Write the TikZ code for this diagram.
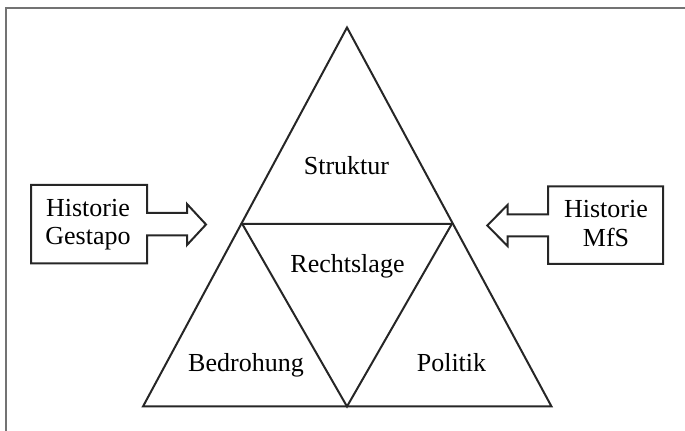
\documentclass[tikz,border=0pt]{standalone}
\usepackage{fontspec}
\setmainfont{Liberation Serif}
\begin{document}
\begin{tikzpicture}[x=0.5pt,y=-0.5pt,
  shape line/.style={draw=black!85,line width=1pt,line join=miter},
  frame line/.style={draw=black!55,line width=0.9pt},
  lbl/.style={font=\fontsize{13}{15}\selectfont,inner sep=0pt,anchor=base}]
\useasboundingbox (0,0) rectangle (685,431);
% frame
\draw[frame line] (6,431) -- (6,8) -- (685,8);
% triangle vertices
\coordinate (A) at (347,27.5);
\coordinate (BL) at (143,406.5);
\coordinate (BR) at (551.5,406.5);
\coordinate (ML) at (242.3,224);
\coordinate (MR) at (451.8,224);
\coordinate (BM) at (347,406.5);
\draw[shape line] (A) -- (BR) -- (BL) -- cycle;
\draw[shape line] (ML) -- (MR) -- (BM) -- cycle;
% labels
\node[lbl] (struktur) at (346.5,175) {Struktur};
\node[lbl] (recht) at (347.5,273) {Rechtslage};
\node[lbl] (bedro) at (246,372) {Bedrohung};
\node[lbl] (politik) at (451.5,372) {Politik};
% left box with arrow
\draw[shape line] (31,185) -- (147,185) -- (147,213) -- (187,213) -- (187,204)
  -- (206,224.5) -- (187,245) -- (187,235.5) -- (147,235.5) -- (147,263.5)
  -- (31,263.5) -- cycle;
\node[lbl] (hl1) at (88,217) {Historie};
\node[lbl] (hl2) at (88,245) {Gestapo};
% right box with arrow
\draw[shape line] (663,186.5) -- (548,186.5) -- (548,214.5) -- (507.5,214.5) -- (507.5,205)
  -- (487.3,225.5) -- (507.5,246) -- (507.5,236.5) -- (548,236.5) -- (548,264)
  -- (663,264) -- cycle;
\node[lbl] (hr1) at (606,218) {Historie};
\node[lbl] (hr2) at (606,246.5) {MfS};
\end{tikzpicture}
\end{document}
